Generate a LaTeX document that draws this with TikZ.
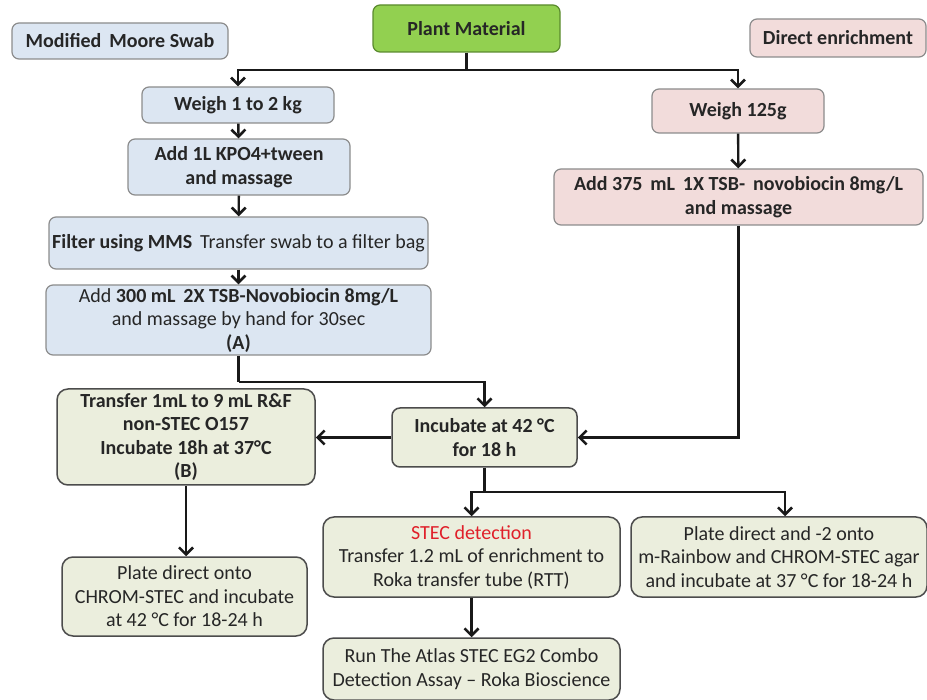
\documentclass[tikz,border=0pt]{standalone}
\usepackage{fontspec}
\setmainfont{Carlito}
\usetikzlibrary{arrows.meta}
\definecolor{swabblue}{HTML}{DCE6F2}
\definecolor{enrichpink}{HTML}{F2DCDB}
\definecolor{plantgreen}{HTML}{92D050}
\definecolor{plantedge}{HTML}{5A8A2E}
\definecolor{stepfill}{HTML}{EBEEDD}
\definecolor{stecred}{HTML}{E0202A}
\tikzset{
    box/.style={rounded corners=7pt, align=center, inner sep=1pt, text=black!85,
        font=\fontsize{20}{23.5}\selectfont},
    swabbox/.style={box, fill=swabblue, draw=black!45, line width=1.2pt},
    enrichbox/.style={box, fill=enrichpink, draw=black!45, line width=1.2pt},
    plantbox/.style={box, fill=plantgreen, draw=plantedge, line width=1.2pt},
    stepbox/.style={box, rounded corners=11pt, fill=stepfill, draw=black!70, line width=1.5pt},
    link/.style={line width=2.4pt, black!90, -{Straight Barb[length=7pt,width=14pt,line width=2.6pt]}},
    plainlink/.style={line width=2.4pt, black!90}
}
\begin{document}
\begin{tikzpicture}[x=1pt,y=-1pt]
            \useasboundingbox (0,0) rectangle (927,700);

            \node[plantbox, minimum width=187pt, minimum height=47pt] (plant) at (466.5,28.5) {\textbf{Plant Material}};
            \node[swabbox, minimum width=216pt, minimum height=36pt] (mms) at (120,41) {\textbf{Modified\, Moore Swab}};
            \node[enrichbox, minimum width=176pt, minimum height=38pt] (direct) at (838,38) {\textbf{Direct enrichment}};

            \node[swabbox, minimum width=192pt, minimum height=36pt] (weighkg) at (238,105) {\textbf{Weigh 1 to 2 kg}};
            \node[swabbox, minimum width=222pt, minimum height=56pt] (kpo) at (239,167) {\textbf{Add 1L KPO4+tween}\\\textbf{and massage}};
            \node[swabbox, minimum width=379pt, minimum height=52pt] (filter) at (238.5,243) {\textbf{Filter using MMS}\, Transfer swab to a filter bag};
            \node[swabbox, minimum width=385pt, minimum height=70pt] (addtsb) at (238.5,320) {Add \textbf{300 mL\, 2X TSB-Novobiocin 8mg/L}\\and massage by hand for 30sec\\\textbf{(A)}};

            \node[enrichbox, minimum width=172pt, minimum height=44pt] (weighg) at (738,111) {\textbf{Weigh 125g}};
            \node[enrichbox, minimum width=369pt, minimum height=56pt] (addnovo) at (738.5,197) {\textbf{Add 375\, mL\, 1X TSB-\, novobiocin 8mg/L}\\\textbf{and massage}};

            \node[stepbox, rounded corners=8pt, minimum width=185pt, minimum height=59pt] (incub) at (484.5,437.5) {\textbf{Incubate at 42 °C}\\\textbf{for 18 h}};
            \node[stepbox, minimum width=258pt, minimum height=96pt] (transfer) at (186,437) {\textbf{Transfer 1mL to 9 mL R\&F}\\\textbf{non-STEC O157}\\\textbf{Incubate 18h at 37°C}\\\textbf{(B)}};
            \node[stepbox, minimum width=245pt, minimum height=79pt] (platecs) at (184.5,596.5) {Plate direct onto\\CHROM-STEC and incubate\\at 42 °C for 18-24 h};
            \node[stepbox, minimum width=297pt, minimum height=80pt] (stec) at (471.5,557) {\textcolor{stecred}{STEC detection}\\Transfer 1.2 mL of enrichment to\\Roka transfer tube (RTT)};
            \node[stepbox, minimum width=296pt, minimum height=80pt] (platemr) at (779,557) {Plate direct and -2 onto\\m-Rainbow and CHROM-STEC agar\\and incubate at 37 °C for 18-24 h};
            \node[stepbox, minimum width=297pt, minimum height=62pt] (atlas) at (471.5,669) {Run The Atlas STEC EG2 Combo\\Detection Assay -- Roka Bioscience};

            \coordinate (split) at (466.5,70);
            \coordinate (joinA) at (238.5,382);
            \coordinate (fork) at (484.5,492);

            \draw[plainlink] (plant.south) -- (split);
            \draw[link] (split) -| (weighkg.north);
            \draw[link] (split) -| (weighg.north);
            \draw[link] (weighkg) -- (kpo);
            \draw[link] (kpo) -- (filter);
            \draw[link] (filter) -- (addtsb);
            \draw[link] (weighg) -- (addnovo);
            \draw[plainlink] (addtsb.south) -- (joinA);
            \draw[link] (joinA) -| (incub.north);
            \draw[link] (addnovo.south) |- (incub.east);
            \draw[link] (incub.west) -- (transfer.east |- incub.west);
            \draw[link] (transfer.south) -- (transfer.south |- platecs.north);
            \draw[plainlink] (incub.south) -- (fork);
            \draw[link] (fork) -| (stec.north);
            \draw[link] (fork) -| ([xshift=6pt]platemr.north);
            \draw[link] (stec.south) -- (atlas.north);
\end{tikzpicture}
\end{document}
